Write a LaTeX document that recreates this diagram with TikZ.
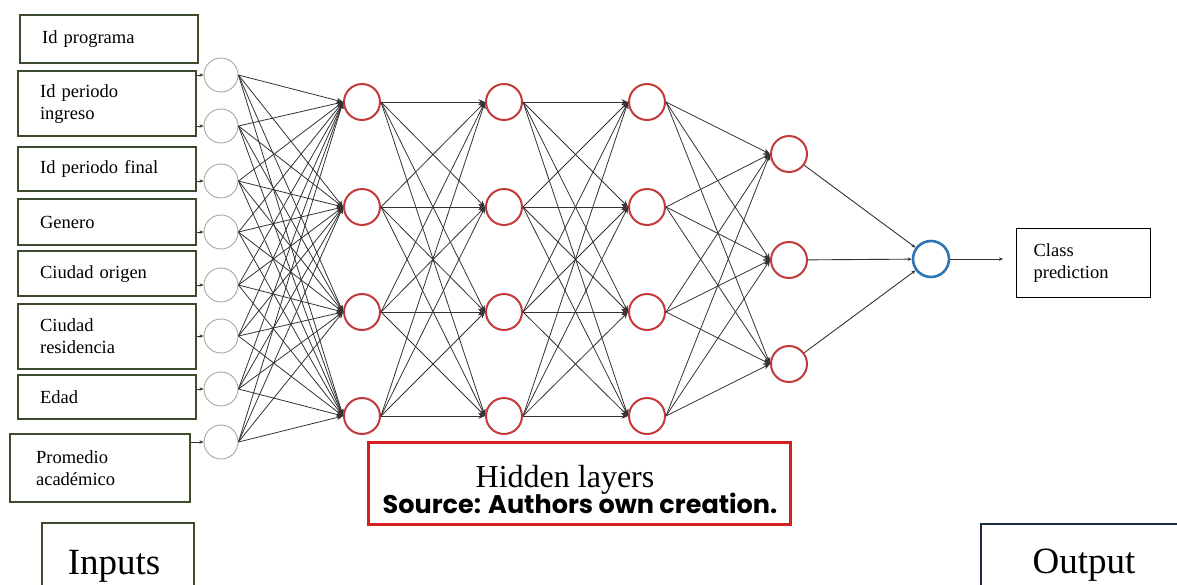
\documentclass[tikz,border=0pt]{standalone}
\usepackage{fontspec}
\setmainfont{Liberation Serif}
\newfontfamily\srcfont{Poppins}
\usetikzlibrary{arrows.meta}
\definecolor{boxgreen}{HTML}{3D4B2E}
\definecolor{navyb}{HTML}{1F2A44}
\definecolor{hidred}{HTML}{C23A3A}
\definecolor{boxred}{HTML}{D42020}
\definecolor{outblue}{HTML}{2E75B6}
\definecolor{edgegray}{HTML}{333333}
\begin{document}
\begin{tikzpicture}[x=1pt,y=-1pt,
  inbox/.style={draw=boxgreen, line width=2.2pt, anchor=north west, align=left,
    inner xsep=22pt, inner ysep=0pt, text width=#1, font=\fontsize{18.5}{22}\selectfont},
  incirc/.style={circle, draw=gray!70, line width=0.9pt, minimum size=34pt, inner sep=0pt},
  hidcirc/.style={circle, draw=hidred, line width=2pt, minimum size=36pt, inner sep=0pt},
  outcirc/.style={circle, draw=outblue, line width=2.6pt, minimum size=36pt, inner sep=0pt},
  conn/.style={draw=edgegray, line width=0.8pt, -{Stealth[length=6.5pt,width=5.5pt]}},
  smallconn/.style={draw=edgegray, line width=0.9pt, -{Stealth[length=4pt,width=3.5pt]}},
  bigtext/.style={font=\fontsize{37}{40}\selectfont}
]
\useasboundingbox (0,0) rectangle (1177,584);
\clip (0,0) rectangle (1177,584);

% input boxes
\node[inbox=134pt, minimum height=48pt] (in1) at (19,14) {Id programa};
\node[inbox=134pt, minimum height=65pt] (in2) at (17,70) {Id periodo\\ingreso};
\node[inbox=134pt, minimum height=44pt] (in3) at (17,146) {Id periodo final};
\node[inbox=134pt, minimum height=46pt] (in4) at (17,198) {Genero};
\node[inbox=134pt, minimum height=45pt] (in5) at (17,250) {Ciudad origen};
\node[inbox=134pt, minimum height=65pt] (in6) at (17,303) {Ciudad\\residencia};
\node[inbox=134pt, minimum height=44pt] (in7) at (17,374) {Edad};
\node[inbox=128pt, minimum height=68pt, inner xsep=26pt] (in8) at (9,433) {Promedio\\acad\'emico};

% input circles
\foreach \i/\y in {1/75,2/126,3/181,4/232,5/285,6/336,7/389,8/442}
  \node[incirc] (x\i) at (221,\y) {};

% hidden layers
\foreach \i/\y in {1/102,2/207,3/312,4/416}{
  \node[hidcirc] (ha\i) at (362,\y) {};
  \node[hidcirc] (hb\i) at (504,\y) {};
  \node[hidcirc] (hc\i) at (647,\y) {};
}
\foreach \i/\y in {1/154,2/260,3/364}
  \node[hidcirc] (hd\i) at (789,\y) {};

\node[outcirc] (o) at (931,259) {};
\node[draw=black, line width=1.2pt, minimum width=134pt, minimum height=69pt, anchor=north west,
  align=left, text width=100pt, inner xsep=17pt, font=\fontsize{18.5}{22}\selectfont] (cls) at (1016,228) {Class\\prediction};

% box -> input circle arrows
\foreach \i in {2,...,8}
  \draw[smallconn] (in\i.east |- x\i) -- (x\i.west);
\draw[smallconn] (in2.east |- x1) -- (x1.west);

% full connections
\foreach \s in {1,...,8}
  \foreach \t in {1,...,4}
    \draw[conn] (x\s.east) -- (ha\t.west);
\foreach \s in {1,...,4}
  \foreach \t in {1,...,4}{
    \draw[conn] (ha\s.east) -- (hb\t.west);
    \draw[conn] (hb\s.east) -- (hc\t.west);
  }
\foreach \s in {1,...,4}
  \foreach \t in {1,...,3}
    \draw[conn] (hc\s.east) -- (hd\t.west);
\foreach \s in {1,...,3}
  \draw[smallconn] (hd\s) -- (o);
\draw[smallconn, shorten >=13pt] (o) -- (o -| cls.west);

% hidden layer box
\node[draw=boxred, line width=2.6pt, minimum width=422pt, minimum height=82pt, anchor=north west] (hbox) at (367,441) {};
\node[font=\fontsize{32}{34}\selectfont, anchor=base] (ht) at (565,487) {Hidden layers};
\node[font=\srcfont\bfseries\fontsize{25.5}{27}\selectfont, anchor=base] (src) at (580,513) {Source: Authors own creation.};

% Inputs / Output boxes
\node[draw=boxgreen, line width=2.2pt, minimum width=152pt, minimum height=90pt, anchor=north west] (ib) at (41,522) {};
\node[bigtext, anchor=base] (it) at (114,574) {Inputs};
\node[draw=navyb, line width=2.2pt, minimum width=230pt, minimum height=90pt, anchor=north west] (ob) at (980,523) {};
\node[bigtext, anchor=base] (ot) at (1084,573) {Output};
\end{tikzpicture}
\end{document}
